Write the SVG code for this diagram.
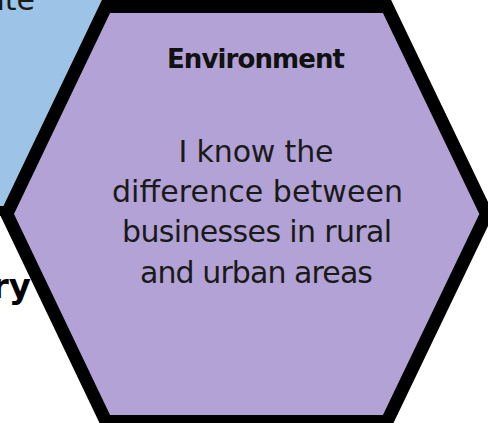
<svg xmlns="http://www.w3.org/2000/svg" width="488" height="423" viewBox="0 0 488 423">
  <style>
    .hex { stroke: #000000; stroke-width: 13; stroke-linejoin: miter; stroke-miterlimit: 10; }
    .blue { fill: #9DC3E6; }
    .purple { fill: #B3A2D5; }
    .body { font-family: "DejaVu Sans", sans-serif; font-size: 30px; fill: #1a1a1a; }
    .title { font-family: "DejaVu Sans", sans-serif; font-weight: bold; font-size: 26px; fill: #111111; }
    .big { font-family: "DejaVu Sans", sans-serif; font-weight: bold; font-size: 34px; fill: #000000; }
  </style>
  <rect x="0" y="0" width="488" height="423" fill="#ffffff"/>
  <g id="node-blue">
    <polygon class="blue" points="-20,-20 118.7,-20 6.8,214 -20,214"/>
    <line x1="-20" y1="211" x2="8" y2="211" stroke="#000000" stroke-width="10"/>
    <text class="body" x="35" y="10" text-anchor="end">ate</text>
  </g>
  <g id="node-left-label">
    <text class="big" x="31" y="298" text-anchor="end">ry</text>
  </g>
  <g id="node-environment">
    <polygon class="hex purple" points="106,6.5 387,6.5 486.5,214 387,421.5 106,421.5 6.8,214"/>
    <text class="title" x="256" y="68" text-anchor="middle" textLength="178">Environment</text>
    <text class="body" x="256" y="162" text-anchor="middle" textLength="155">I know the</text>
    <text class="body" x="257.5" y="202" text-anchor="middle" textLength="291">difference between</text>
    <text class="body" x="257" y="242" text-anchor="middle" textLength="270">businesses in rural</text>
    <text class="body" x="256.5" y="283" text-anchor="middle" textLength="233">and urban areas</text>
  </g>
  <g id="connectors"/>
</svg>
